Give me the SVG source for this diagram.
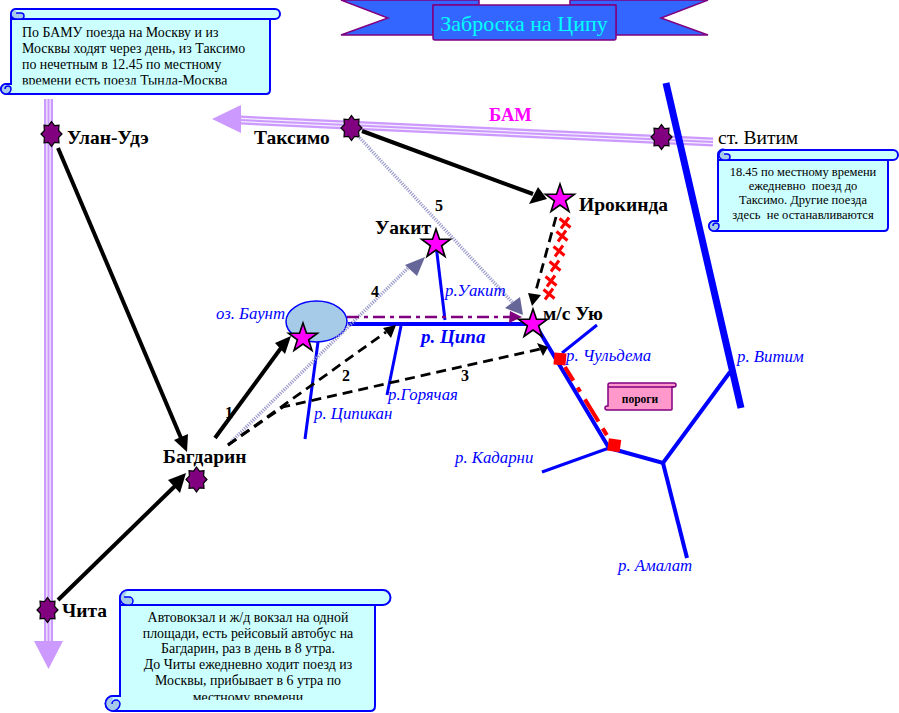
<svg xmlns="http://www.w3.org/2000/svg" width="899" height="713" viewBox="0 0 899 713">
<style>
text{font-family:"Liberation Serif","Times New Roman",serif}
.lab{font-size:19.500px;font-weight:bold;fill:#000}
.num{font-size:16px;font-weight:bold;fill:#000}
.riv{font-size:16.800px;font-style:italic;fill:#0000ff}
.note{font-size:13.900px;fill:#000}
.small{font-size:12.500px;fill:#000;white-space:pre}
.rv{fill:none;stroke:#0000ff;stroke-width:3}
.rv4{fill:none;stroke:#0000ff;stroke-width:4}
.rw{fill:none;stroke:#cc99ff;stroke-width:9}
.rw2{fill:none;stroke:#f4ecff;stroke-width:4.500}
.rw3{fill:none;stroke:#cc99ff;stroke-width:2}
.blk{fill:none;stroke:#000;stroke-width:4}
.dsh{fill:none;stroke:#000;stroke-width:2.800;stroke-dasharray:10 6}
.dot{fill:none;stroke:#9a9acc;stroke-width:3.500;stroke-dasharray:1.200 1.200}
.scr{fill:#ccffff;stroke:#0000ff;stroke-width:2}
.curl{fill:#a6cbe8;stroke:#0000ff;stroke-width:1.500}
.st8{fill:#800080;stroke:#000;stroke-width:1.200}
.st5{fill:#ff00ff;stroke:#000;stroke-width:1.600}
.x{fill:none;stroke:#ff0000;stroke-width:3}
</style>
<defs>
<polygon id="s8" points="0,-12.500 3,-8.400 7.500,-8.800 7.100,-3.500 10.500,0 7.100,3.500 7.500,8.800 3,8.400 0,12.500 -3,8.400 -7.500,8.800 -7.100,3.500 -10.500,0 -7.100,-3.500 -7.500,-8.800 -3,-8.400"/>
<polygon id="s5" points="0,-15 3.500,-4.800 14.500,-4.800 5.600,1.800 9,12.500 0,6 -9,12.500 -5.600,1.800 -14.500,-4.800 -3.500,-4.800"/>
<path id="xx" d="M-5.500-4.500L5.500 4.500M4-5.500L-4 5.500"/>
<clipPath id="c1"><rect x="12" y="20" width="258" height="64.500"/></clipPath>
<clipPath id="c2"><rect x="120" y="606" width="255" height="94"/></clipPath>
</defs>

<g id="railways">
<path class="rw" d="M48.500 99V642"/><path class="rw2" d="M48.500 99V642"/><path class="rw3" d="M48.500 99V642"/>
<polygon points="34,641 63,641 48.500,669" fill="#cc99ff"/>
<path class="rw" d="M240 120L713 142"/><path class="rw2" d="M240 120L713 142"/><path class="rw3" d="M240 120L713 142"/>
<polygon points="212,119 241,105 241,133" fill="#cc99ff"/>
</g>

<g id="rivers">
<path fill="none" stroke="#0000ff" stroke-width="7" d="M666 83L741 408"/>
<path class="rv4" d="M348 324H535L609 448L663 463L730 372"/>
<path class="rv4" d="M663 463L687 558"/>
<path class="rv" d="M609 448L542 472M562 353L597 325M436 245L445 320M401 326L387 395M318 342L305 439"/>
<path d="M565 367L608 437" fill="none" stroke="#f00" stroke-width="4" stroke-dasharray="16 8 5 9 26 8 8"/>
</g>

<g id="lake"><ellipse cx="316.500" cy="321.500" rx="30.500" ry="20.500" fill="#a6cbe8" stroke="#0000ff" stroke-width="1.500"/></g>

<g id="connectors">
<path class="blk" d="M58 148L181 438"/><polygon points="187,452 174,440 188,434"/>
<path class="blk" d="M58 600L175 486"/><polygon points="186,473 168,480 180,493"/>
<path class="blk" d="M362 131L533 194"/><polygon points="547,199 538,187 529,204"/>
<path class="blk" d="M215 438L281 348"/><polygon points="291,336 275,343 285,354"/>
<path class="dot" d="M229 444L411 265"/><polygon points="425,257 405,265 417,276" fill="#666699"/>
<path class="dot" d="M358 136L513 303"/><polygon points="523,315 505,308 520,297" fill="#666699"/>
<path class="dsh" d="M228 445L386 332"/><polygon points="396,325 383,328 391,338"/>
<path class="dsh" d="M228 445L283 407L540 349"/><polygon points="548,347 537,343 543,356"/>
<path class="dsh" d="M556 217L535 294"/><polygon points="532,306 528,293 541,295"/>
<path fill="none" stroke="#800080" stroke-width="2.600" stroke-dasharray="12 5 4 5" d="M347 317H510"/><polygon points="522,317 510,311 509,323" fill="#800080"/>
</g>

<g id="rapids" fill="#f00">
<rect x="554" y="353" width="12" height="12" transform="rotate(5 560 359)"/>
<rect x="608" y="439" width="12.500" height="12.500" transform="rotate(8 614 445)"/>
<use href="#xx" class="x" x="565" y="223"/><use href="#xx" class="x" x="562" y="236"/><use href="#xx" class="x" x="559" y="251"/><use href="#xx" class="x" x="555" y="266"/><use href="#xx" class="x" x="551" y="281"/><use href="#xx" class="x" x="549" y="294"/>
</g>

<g id="ulan-ude"><use href="#s8" class="st8" x="51.500" y="134"/><text class="lab" x="67" y="144">Улан-Удэ</text></g>
<g id="taksimo"><use href="#s8" class="st8" x="351.500" y="128"/><text class="lab" x="254" y="144">Таксимо</text></g>
<g id="vitim-st"><use href="#s8" class="st8" x="661.500" y="137"/><text x="718" y="144" font-size="19.500">ст. Витим</text></g>
<g id="bagdarin"><use href="#s8" class="st8" x="196.500" y="479.500"/><text class="lab" x="163" y="463">Багдарин</text></g>
<g id="chita"><use href="#s8" class="st8" x="47.500" y="610"/><text class="lab" x="62" y="617">Чита</text></g>
<g id="irokinda"><use href="#s5" class="st5" x="560" y="199"/><text class="lab" x="579" y="211">Ирокинда</text></g>
<g id="uakit"><use href="#s5" class="st5" x="436" y="244"/><text class="lab" x="375" y="234">Уакит</text></g>
<g id="uyu"><use href="#s5" class="st5" x="533" y="324"/><text class="lab" x="543" y="320">м/с Ую</text></g>
<g id="baunt"><use href="#s5" class="st5" x="303" y="338"/></g>

<g id="labels">
<text x="489" y="121" font-size="18.500" font-weight="bold" fill="#ff00ff">БАМ</text>
<text class="riv" x="216" y="319">оз. Баунт</text>
<text x="421" y="343" font-size="19" font-weight="bold" font-style="italic" fill="#0000ff">р. Ципа</text>
<text class="riv" x="445" y="296">р.Уакит</text>
<text class="riv" x="566" y="361">р. Чульдема</text>
<text class="riv" x="737" y="362">р. Витим</text>
<text class="riv" x="314" y="419">р. Ципикан</text>
<text class="riv" x="388" y="400">р.Горячая</text>
<text class="riv" x="455" y="463">р. Кадарни</text>
<text class="riv" x="618" y="571">р. Амалат</text>
<text class="num" x="225" y="418">1</text><text class="num" x="342" y="381">2</text><text class="num" x="461" y="381">3</text><text class="num" x="371" y="297">4</text><text class="num" x="435" y="211">5</text>
</g>

<g id="title">
<path d="M341 0H479V5H433V35H341L388 18Z" fill="#3366ff" stroke="#800080" stroke-width="1.500"/>
<path d="M708 0H570V5H616V35H708L661 18Z" fill="#3366ff" stroke="#800080" stroke-width="1.500"/>
<rect x="433" y="5" width="183" height="35" rx="2" fill="#3366ff" stroke="#800080" stroke-width="1.500"/>
<text x="524" y="31" text-anchor="middle" font-size="22" fill="#00ffff">Заброска на Ципу</text>
</g>

<g id="note-bam">
<path class="scr" d="M17 9H275a5 5 0 0 1 0 10H270V90q0 4-4 4H6a5 5 0 0 1 0-10H11V14a5 5 0 0 1 6-5Z"/>
<path class="scr" style="fill:none" d="M12 19H275"/>
<path class="curl" d="M16 9a5 5 0 0 0-5 5a5 5 0 0 0 5 5h5a3 3 0 0 0 0-6h-5"/>
<path class="curl" d="M6 84a5 5 0 0 0 0 10a5 5 0 0 0 5-5a3 3 0 0 0-6 0"/>
<g clip-path="url(#c1)">
<text class="note" x="22" y="37">По БАМУ поезда на Москву и из</text>
<text class="note" x="22" y="53">Москвы ходят через день, из Таксимо</text>
<text class="note" x="22" y="69">по нечетным в 12.45 по местному</text>
<text class="note" x="22" y="85">времени есть поезд Тында-Москва</text>
</g>
</g>

<g id="note-vitim" text-anchor="middle">
<path class="scr" d="M725 150H893a5 5 0 0 1 0 10H888V227q0 4-4 4H714a5 5 0 0 1 0-10H718V155a5 5 0 0 1 7-5Z"/>
<path class="scr" style="fill:none" d="M719 160H893"/>
<path class="curl" d="M724 150a5 5 0 0 0-5 5a5 5 0 0 0 5 5h3a3 3 0 0 0 0-6h-3"/>
<path class="curl" d="M714 221a5 5 0 0 0 0 10a5 5 0 0 0 5-5a3 3 0 0 0-6 0"/>
<text class="small" x="803" y="176">18.45 по местному времени</text>
<text class="small" x="803" y="190">ежедневно  поезд до</text>
<text class="small" x="803" y="204">Таксимо. Другие поезда</text>
<text class="small" x="803" y="219">здесь  не останавливаются</text>
</g>

<g id="note-chita" text-anchor="middle">
<path class="scr" d="M128 590H383a7.500 7.500 0 0 1 0 15H375V706q0 5-5 5H113a7.500 7.500 0 0 1 0-15H120V598a8 8 0 0 1 8-8Z"/>
<path class="scr" style="fill:none" d="M121 605H383"/>
<path class="curl" d="M128 590a8 8 0 0 0-8 8a7 7 0 0 0 7 7h2a4 4 0 0 0 0-8h-5"/>
<path class="curl" d="M113 696a7.500 7.500 0 0 0 0 15a7.500 7.500 0 0 0 7-7a4 4 0 0 0-8 0"/>
<g clip-path="url(#c2)">
<text class="note" x="248" y="622">Автовокзал и ж/д вокзал на одной</text>
<text class="note" x="248" y="638">площади, есть рейсовый автобус на</text>
<text class="note" x="248" y="653">Багдарин, раз в день в 8 утра.</text>
<text class="note" x="248" y="669">До Читы ежедневно ходит поезд из</text>
<text class="note" x="248" y="685">Москвы, прибывает в 6 утра по</text>
<text class="note" x="248" y="702">местному времени</text>
</g>
</g>

<g id="note-rapids">
<path d="M610 383H674a2 2 0 0 1 0 4H672V409q0 1-1 1H607a2 2 0 0 1 0-4H608V385a2 2 0 0 1 2-2Z" fill="#ff99cc" stroke="#800080" stroke-width="1.500"/>
<path d="M608 387H674" fill="none" stroke="#800080" stroke-width="1.500"/>
<text x="640" y="403" text-anchor="middle" font-size="11.500" font-weight="bold">пороги</text>
</g>
</svg>
